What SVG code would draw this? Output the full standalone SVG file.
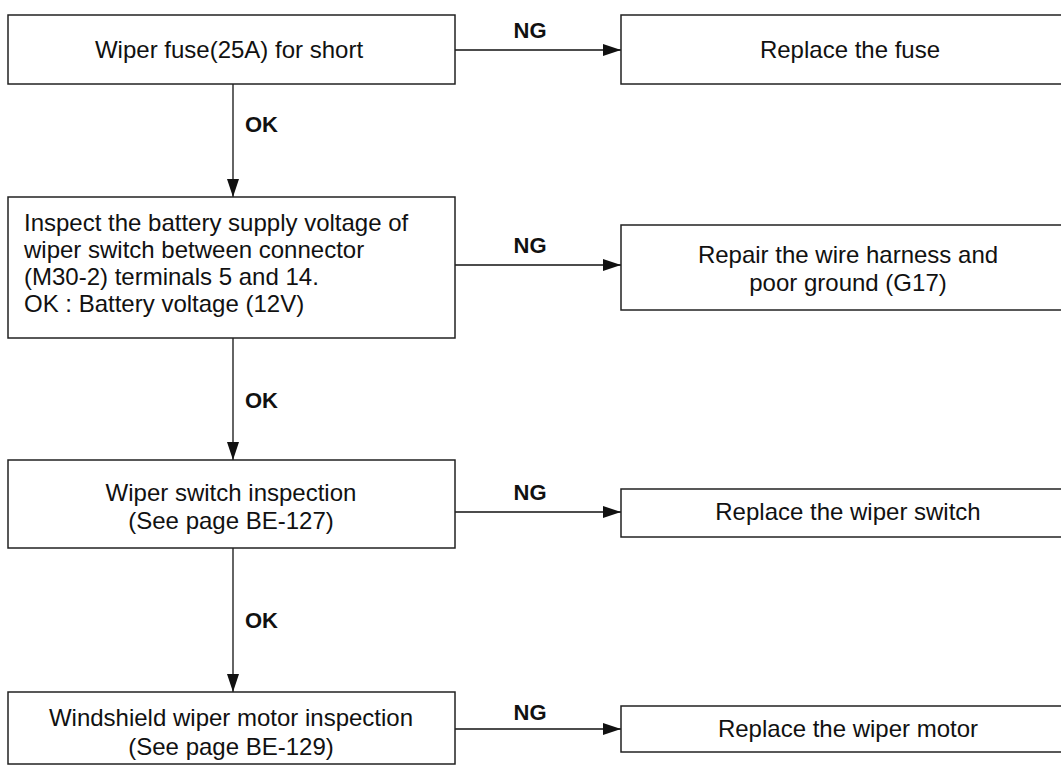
<svg xmlns="http://www.w3.org/2000/svg" width="1061" height="768" viewBox="0 0 1061 768">
<style>
.box{fill:#fff;stroke:#222;stroke-width:1.5}
.t{font-family:"Liberation Sans",Arial,sans-serif;font-size:24px;fill:#111}
.c{text-anchor:middle}
.lbl{font-family:"Liberation Sans",Arial,sans-serif;font-size:22px;font-weight:bold;fill:#111}
.ln{stroke:#111;stroke-width:1.3;fill:none}
</style>
<defs>
<marker id="ah" markerWidth="18" markerHeight="12" refX="18" refY="6" orient="auto" markerUnits="userSpaceOnUse">
<path d="M0,0 L18,6 L0,12 Z" fill="#111"/>
</marker>
</defs>
<rect width="1061" height="768" fill="#fff"/>
<g id="connectors">
<line class="ln" x1="455" y1="50" x2="621" y2="50" marker-end="url(#ah)"/>
<line class="ln" x1="233" y1="84" x2="233" y2="197" marker-end="url(#ah)"/>
<line class="ln" x1="455" y1="265" x2="621" y2="265" marker-end="url(#ah)"/>
<line class="ln" x1="233" y1="338" x2="233" y2="460" marker-end="url(#ah)"/>
<line class="ln" x1="455" y1="512" x2="621" y2="512" marker-end="url(#ah)"/>
<line class="ln" x1="233" y1="548" x2="233" y2="692" marker-end="url(#ah)"/>
<line class="ln" x1="455" y1="729" x2="621" y2="729" marker-end="url(#ah)"/>
<text class="lbl" x="530" y="38" text-anchor="middle">NG</text>
<text class="lbl" x="245" y="132">OK</text>
<text class="lbl" x="530" y="253" text-anchor="middle">NG</text>
<text class="lbl" x="245" y="408">OK</text>
<text class="lbl" x="530" y="500" text-anchor="middle">NG</text>
<text class="lbl" x="245" y="628">OK</text>
<text class="lbl" x="530" y="720" text-anchor="middle">NG</text>
</g>
<g id="n1"><rect class="box" x="8" y="15" width="447" height="69"/><text class="t c" x="229" y="58">Wiper fuse(25A) for short</text></g>
<g id="n2"><rect class="box" x="621" y="15" width="460" height="69"/><text class="t c" x="850" y="58">Replace the fuse</text></g>
<g id="n3"><rect class="box" x="8" y="197" width="447" height="141"/>
<text class="t" x="24" y="231">Inspect the battery supply voltage of</text>
<text class="t" x="24" y="258">wiper switch between connector</text>
<text class="t" x="24" y="285">(M30-2) terminals 5 and 14.</text>
<text class="t" x="24" y="312">OK : Battery voltage (12V)</text></g>
<g id="n4"><rect class="box" x="621" y="225" width="460" height="85"/>
<text class="t c" x="848" y="263">Repair the wire harness and</text>
<text class="t c" x="848" y="291">poor ground (G17)</text></g>
<g id="n5"><rect class="box" x="8" y="460" width="447" height="88"/>
<text class="t c" x="231" y="501">Wiper switch inspection</text>
<text class="t c" x="231" y="529">(See page BE-127)</text></g>
<g id="n6"><rect class="box" x="621" y="489" width="460" height="48"/>
<text class="t c" x="848" y="520">Replace the wiper switch</text></g>
<g id="n7"><rect class="box" x="8" y="692" width="447" height="72"/>
<text class="t c" x="231" y="726">Windshield wiper motor inspection</text>
<text class="t c" x="231" y="755">(See page BE-129)</text></g>
<g id="n8"><rect class="box" x="621" y="706" width="460" height="46"/>
<text class="t c" x="848" y="737">Replace the wiper motor</text></g>
</svg>
